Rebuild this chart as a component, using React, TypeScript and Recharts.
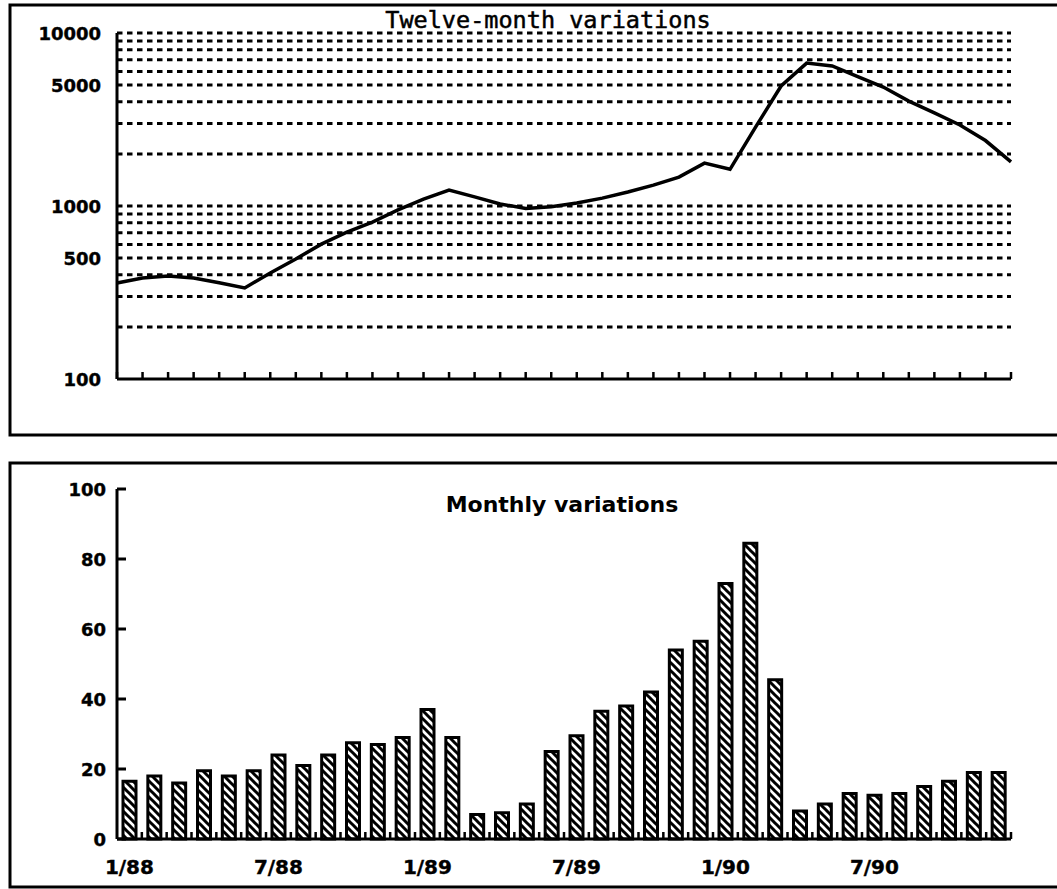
import React from 'react';
import { LineChart, Line, XAxis, YAxis, ReferenceLine, BarChart, Bar } from 'recharts';

const months = [
  '1/88', '2/88', '3/88', '4/88', '5/88', '6/88', '7/88', '8/88', '9/88', '10/88', '11/88', '12/88',
  '1/89', '2/89', '3/89', '4/89', '5/89', '6/89', '7/89', '8/89', '9/89', '10/89', '11/89', '12/89',
  '1/90', '2/90', '3/90', '4/90', '5/90', '6/90', '7/90', '8/90', '9/90', '10/90', '11/90', '12/90',
];

const twelveMonth = [
  359, 384, 394, 384, 360, 336, 410, 494, 602, 707, 808, 949,
  1097, 1237, 1130, 1028, 967, 990, 1040, 1110, 1205, 1320, 1470, 1770,
  1630, 2860, 4940, 6700, 6450, 5600, 4870, 4040, 3450, 2940, 2390, 1800,
];

const monthly = [
  16.5, 18, 16, 19.5, 18, 19.5, 24, 21, 24, 27.5, 27, 29,
  37, 29, 7, 7.5, 10, 25, 29.5, 36.5, 38, 42, 54, 56.5,
  73, 84.5, 45.5, 8, 10, 13, 12.5, 13, 15, 16.5, 19, 19,
];

const topYTicks = [100, 500, 1000, 5000, 10000];
const topGrid = [200, 300, 400, 500, 600, 700, 800, 900, 1000, 2000, 3000, 4000, 5000, 6000, 7000, 8000, 9000, 10000];
const bottomYTicks = [0, 20, 40, 60, 80, 100];
const labelledMonths = ['1/88', '7/88', '1/89', '7/89', '1/90', '7/90'];

const topTitle = 'Twelve-month variations';
const bottomTitle = 'Monthly variations';

const lineData = months.map((m, i) => ({ m, v: twelveMonth[i] }));
const barData = months.map((m, i) => ({ m, v: monthly[i] }));

const tickFont = { fontFamily: '"DejaVu Sans", sans-serif', fontWeight: 700 as const };

const TopYTick = (props: any) => {
  const { x, y, payload } = props;
  return (
    <text x={x - 16} y={y} textAnchor="end" dominantBaseline="central" fontSize={18} fill="#000" stroke="#000" strokeWidth={0.4} style={tickFont}>
      {payload.value}
    </text>
  );
};

const TopXTick = (props: any) => {
  const { x, y } = props;
  return <line x1={x} y1={y} x2={x} y2={y - 7} stroke="#000" strokeWidth={2.5} />;
};

const BottomYTick = (props: any) => {
  const { x, y, payload } = props;
  return (
    <g>
      <line x1={x} y1={y} x2={x + 9} y2={y} stroke="#000" strokeWidth={3} />
      <text x={x - 11} y={y} textAnchor="end" dominantBaseline="central" fontSize={18} fill="#000" stroke="#000" strokeWidth={0.4} style={tickFont}>
        {payload.value}
      </text>
    </g>
  );
};

const BottomXTick = (props: any) => {
  const { x, y, payload } = props;
  const half = 894 / 36 / 2;
  const show = labelledMonths.includes(payload.value);
  return (
    <g>
      <line x1={x + half} y1={y} x2={x + half} y2={y - 7} stroke="#000" strokeWidth={2.5} />
      {show && (
        <text x={x} y={y + 35} textAnchor="middle" fontSize={20} fill="#000" stroke="#000" strokeWidth={0.4} style={tickFont}>
          {payload.value}
        </text>
      )}
    </g>
  );
};

export default function App() {
  return (
    <div style={{ position: 'absolute', left: 0, top: 0, width: 1057, height: 889, background: '#fff', overflow: 'hidden' }}>
      <svg width={1057} height={889} style={{ position: 'absolute', left: 0, top: 0 }}>
        <defs>
          <pattern id="hatch" patternUnits="userSpaceOnUse" width={8} height={8}>
            <path d="M-2,-2 L10,10 M-2,6 L2,10 M6,-2 L10,2" stroke="#000" strokeWidth={3} />
          </pattern>
        </defs>
        <rect x={10} y={5} width={1070} height={430} fill="none" stroke="#000" strokeWidth={3} />
        <rect x={10} y={463} width={1070} height={424} fill="none" stroke="#000" strokeWidth={3} />
      </svg>

      <div style={{ position: 'absolute', left: 0, top: 0 }}>
        <LineChart width={1057} height={440} data={lineData} margin={{ top: 33, right: 46, bottom: 0, left: 0 }}>
          {topGrid.map((g) => (
            <ReferenceLine key={g} y={g} stroke="#000" strokeWidth={3} strokeDasharray="5.5 4.5" />
          ))}
          <XAxis
            dataKey="m"
            scale="point"
            height={61}
            interval={0}
            tickSize={0}
            tickMargin={0}
            tickLine={false}
            axisLine={{ stroke: '#000', strokeWidth: 3 }}
            tick={<TopXTick />}
          />
          <YAxis
            scale="log"
            domain={[100, 10000]}
            ticks={topYTicks}
            width={117}
            tickSize={0}
            tickMargin={0}
            tickLine={false}
            interval={0}
            allowDataOverflow
            axisLine={{ stroke: '#000', strokeWidth: 3 }}
            tick={<TopYTick />}
          />
          <Line type="linear" dataKey="v" stroke="#000" strokeWidth={3.5} dot={false} isAnimationActive={false} />
        </LineChart>
      </div>

      <div style={{ position: 'absolute', left: 0, top: 440 }}>
        <BarChart width={1057} height={449} data={barData} margin={{ top: 49, right: 46, bottom: 0, left: 0 }}>
          <XAxis
            dataKey="m"
            height={50}
            interval={0}
            tickSize={0}
            tickMargin={0}
            tickLine={false}
            axisLine={{ stroke: '#000', strokeWidth: 3 }}
            tick={<BottomXTick />}
          />
          <YAxis
            domain={[0, 100]}
            ticks={bottomYTicks}
            width={117}
            tickSize={0}
            tickMargin={0}
            tickLine={false}
            interval={0}
            axisLine={{ stroke: '#000', strokeWidth: 3 }}
            tick={<BottomYTick />}
          />
          <Bar dataKey="v" barSize={13} fill="url(#hatch)" stroke="#000" strokeWidth={3} isAnimationActive={false} />
        </BarChart>
      </div>

      <svg width={1057} height={889} style={{ position: 'absolute', left: 0, top: 0, pointerEvents: 'none' }}>
        <text x={548} y={28} textAnchor="middle" fontSize={23.5} fill="#000" stroke="#000" strokeWidth={0.5} style={{ fontFamily: '"DejaVu Sans Mono", monospace' }}>
          {topTitle}
        </text>
        <text x={562} y={512} textAnchor="middle" fontSize={22} fill="#000" style={{ fontFamily: '"DejaVu Sans", sans-serif', fontWeight: 700 }}>
          {bottomTitle}
        </text>
      </svg>
    </div>
  );
}
